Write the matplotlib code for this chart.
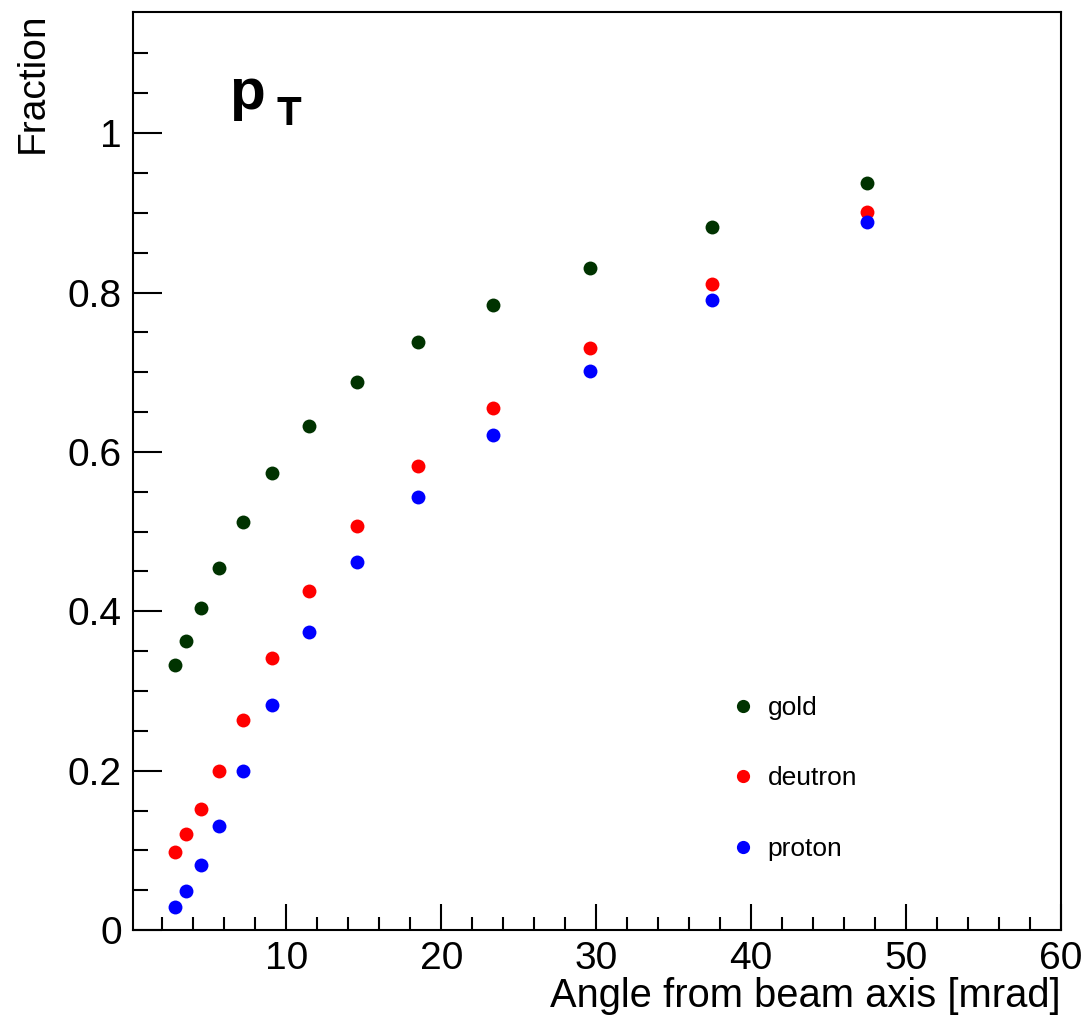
import matplotlib
matplotlib.use("Agg")
import matplotlib.pyplot as plt
from matplotlib.ticker import MultipleLocator, FixedLocator

# bin centres along the beam angle [mrad]
angle = [2.79, 3.55, 4.47, 5.66, 7.18, 9.08, 11.48, 14.58, 18.52, 23.35, 29.6, 37.5, 47.5]

gold = [0.332, 0.363, 0.404, 0.454, 0.512, 0.573, 0.632, 0.688, 0.738, 0.784, 0.831, 0.882, 0.937]
deutron = [0.098, 0.120, 0.152, 0.200, 0.264, 0.342, 0.425, 0.507, 0.582, 0.655, 0.730, 0.811, 0.901]
proton = [0.029, 0.049, 0.082, 0.131, 0.200, 0.283, 0.374, 0.462, 0.543, 0.621, 0.701, 0.790, 0.888]

series = [
    ("gold", gold, "#003300"),
    ("deutron", deutron, "#ff0000"),
    ("proton", proton, "#0000ff"),
]

plt.rcParams["font.family"] = ["Liberation Sans", "DejaVu Sans"]

fig = plt.figure(figsize=(10.85, 10.19), dpi=100)
ax = fig.add_axes([0.1226, 0.0873, 0.9779 - 0.1226, 0.9882 - 0.0873])

for name, vals, color in series:
    ax.plot(angle, vals, "o", color=color, markersize=10, markeredgewidth=0, label=name)

ax.set_xlim(0.1, 60)
ax.set_ylim(0, 1.152)
ax.xaxis.set_major_locator(MultipleLocator(10))
ax.xaxis.set_minor_locator(MultipleLocator(2))
ax.yaxis.set_major_locator(MultipleLocator(0.2))
# ROOT leaves out the tick sitting on the top frame
ax.yaxis.set_minor_locator(FixedLocator([i * 0.05 for i in range(23)]))
ax.yaxis.set_major_formatter(plt.FuncFormatter(lambda v, p: "0" if v == 0 else ("1" if abs(v - 1) < 1e-9 else f"{v:.1f}")))

ax.tick_params(which="both", direction="in", top=False, right=False, width=1.5, labelsize=28)
ax.tick_params(axis="y", which="major", length=21, pad=8)
ax.tick_params(axis="y", which="minor", length=10.5)
ax.tick_params(axis="x", which="major", length=19, pad=8)
ax.tick_params(axis="x", which="minor", length=9.5)
for sp in ax.spines.values():
    sp.set_linewidth(1.5)

ax.set_xlabel("Angle from beam axis [mrad]", fontsize=28.7, loc="right", labelpad=0)
ax.set_ylabel("Fraction", fontsize=28, loc="top", labelpad=12)

ax.text(0.104, 0.894, "p", transform=ax.transAxes, fontsize=42, fontweight="bold", ha="left", va="baseline")
ax.text(0.155, 0.877, "T", transform=ax.transAxes, fontsize=29, fontweight="bold", ha="left", va="baseline")

ax.legend(loc="upper left", bbox_to_anchor=(0.649, 0.255), frameon=False, fontsize=19,
          handlelength=0.55, handletextpad=0.68, labelspacing=1.76, borderpad=0, borderaxespad=0,
          numpoints=1, markerscale=0.95)

fig.savefig("out.png", dpi=100)
